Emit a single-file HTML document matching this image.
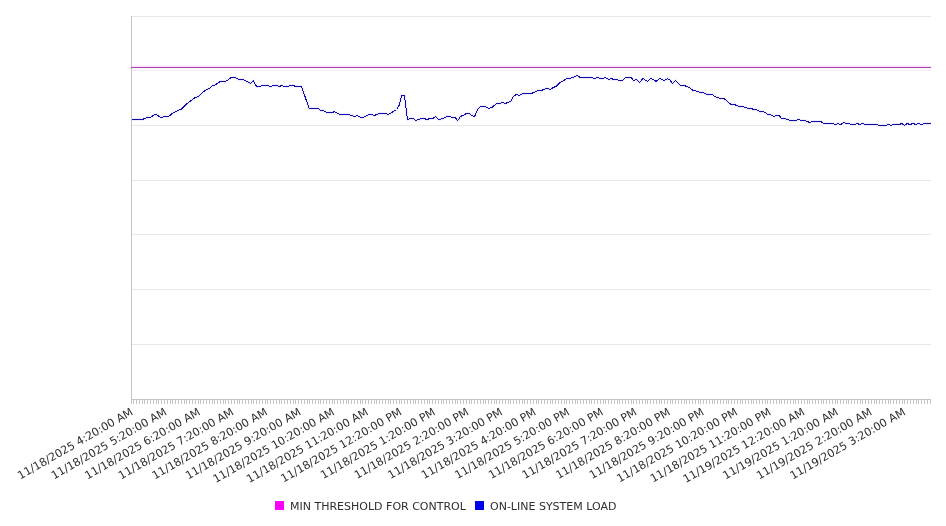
<!DOCTYPE html>
<html><head><meta charset="utf-8"><title>Chart</title>
<style>
html,body{margin:0;padding:0;background:#fff;}
svg{display:block;font-family:"DejaVu Sans","Liberation Sans",sans-serif;font-size:11px;}
</style></head><body>
<svg width="946" height="526" viewBox="0 0 946 526">
<rect width="946" height="526" fill="#fff"/>
<g>
<path d="M131.5 16.5H931" stroke="#e8e8e8" stroke-width="1"/>
<path d="M131.5 70.5H931" stroke="#f4edf4" stroke-width="1"/>
<path d="M131.5 125.5H823" stroke="#e8e8e8" stroke-width="1"/>
<path d="M131.5 180.5H931" stroke="#e8e8e8" stroke-width="1"/>
<path d="M131.5 234.5H931" stroke="#e8e8e8" stroke-width="1"/>
<path d="M131.5 289.5H931" stroke="#e8e8e8" stroke-width="1"/>
<path d="M131.5 344.5H931" stroke="#e8e8e8" stroke-width="1"/>
</g>
<path d="M131.5 16V404" stroke="#c4c4c4" stroke-width="1"/>
<path d="M131 399.5H931" stroke="#c4c4c4" stroke-width="1"/>
<path d="M131.5 399v5M133.5 399v5M136.5 399v5M139.5 399v5M142.5 399v5M144.5 399v5M147.5 399v5M150.5 399v5M153.5 399v5M156.5 399v5M158.5 399v5M161.5 399v5M164.5 399v5M167.5 399v5M170.5 399v5M172.5 399v5M175.5 399v5M178.5 399v5M181.5 399v5M184.5 399v5M186.5 399v5M189.5 399v5M192.5 399v5M195.5 399v5M198.5 399v5M200.5 399v5M203.5 399v5M206.5 399v5M209.5 399v5M212.5 399v5M214.5 399v5M217.5 399v5M220.5 399v5M223.5 399v5M225.5 399v5M228.5 399v5M231.5 399v5M234.5 399v5M237.5 399v5M239.5 399v5M242.5 399v5M245.5 399v5M248.5 399v5M251.5 399v5M253.5 399v5M256.5 399v5M259.5 399v5M262.5 399v5M265.5 399v5M267.5 399v5M270.5 399v5M273.5 399v5M276.5 399v5M279.5 399v5M281.5 399v5M284.5 399v5M287.5 399v5M290.5 399v5M293.5 399v5M295.5 399v5M298.5 399v5M301.5 399v5M304.5 399v5M307.5 399v5M309.5 399v5M312.5 399v5M315.5 399v5M318.5 399v5M320.5 399v5M323.5 399v5M326.5 399v5M329.5 399v5M332.5 399v5M334.5 399v5M337.5 399v5M340.5 399v5M343.5 399v5M346.5 399v5M348.5 399v5M351.5 399v5M354.5 399v5M357.5 399v5M360.5 399v5M362.5 399v5M365.5 399v5M368.5 399v5M371.5 399v5M374.5 399v5M376.5 399v5M379.5 399v5M382.5 399v5M385.5 399v5M388.5 399v5M390.5 399v5M393.5 399v5M396.5 399v5M399.5 399v5M401.5 399v5M404.5 399v5M407.5 399v5M410.5 399v5M413.5 399v5M415.5 399v5M418.5 399v5M421.5 399v5M424.5 399v5M427.5 399v5M429.5 399v5M432.5 399v5M435.5 399v5M438.5 399v5M441.5 399v5M443.5 399v5M446.5 399v5M449.5 399v5M452.5 399v5M455.5 399v5M457.5 399v5M460.5 399v5M463.5 399v5M466.5 399v5M469.5 399v5M471.5 399v5M474.5 399v5M477.5 399v5M480.5 399v5M483.5 399v5M485.5 399v5M488.5 399v5M491.5 399v5M494.5 399v5M496.5 399v5M499.5 399v5M502.5 399v5M505.5 399v5M508.5 399v5M510.5 399v5M513.5 399v5M516.5 399v5M519.5 399v5M522.5 399v5M524.5 399v5M527.5 399v5M530.5 399v5M533.5 399v5M536.5 399v5M538.5 399v5M541.5 399v5M544.5 399v5M547.5 399v5M550.5 399v5M552.5 399v5M555.5 399v5M558.5 399v5M561.5 399v5M564.5 399v5M566.5 399v5M569.5 399v5M572.5 399v5M575.5 399v5M577.5 399v5M580.5 399v5M583.5 399v5M586.5 399v5M589.5 399v5M591.5 399v5M594.5 399v5M597.5 399v5M600.5 399v5M603.5 399v5M605.5 399v5M608.5 399v5M611.5 399v5M614.5 399v5M617.5 399v5M619.5 399v5M622.5 399v5M625.5 399v5M628.5 399v5M631.5 399v5M633.5 399v5M636.5 399v5M639.5 399v5M642.5 399v5M645.5 399v5M647.5 399v5M650.5 399v5M653.5 399v5M656.5 399v5M659.5 399v5M661.5 399v5M664.5 399v5M667.5 399v5M670.5 399v5M672.5 399v5M675.5 399v5M678.5 399v5M681.5 399v5M684.5 399v5M686.5 399v5M689.5 399v5M692.5 399v5M695.5 399v5M698.5 399v5M700.5 399v5M703.5 399v5M706.5 399v5M709.5 399v5M712.5 399v5M714.5 399v5M717.5 399v5M720.5 399v5M723.5 399v5M726.5 399v5M728.5 399v5M731.5 399v5M734.5 399v5M737.5 399v5M740.5 399v5M742.5 399v5M745.5 399v5M748.5 399v5M751.5 399v5M753.5 399v5M756.5 399v5M759.5 399v5M762.5 399v5M765.5 399v5M767.5 399v5M770.5 399v5M773.5 399v5M776.5 399v5M779.5 399v5M781.5 399v5M784.5 399v5M787.5 399v5M790.5 399v5M793.5 399v5M795.5 399v5M798.5 399v5M801.5 399v5M804.5 399v5M807.5 399v5M809.5 399v5M812.5 399v5M815.5 399v5M818.5 399v5M821.5 399v5M823.5 399v5M826.5 399v5M829.5 399v5M832.5 399v5M835.5 399v5M837.5 399v5M840.5 399v5M843.5 399v5M846.5 399v5M848.5 399v5M851.5 399v5M854.5 399v5M857.5 399v5M860.5 399v5M862.5 399v5M865.5 399v5M868.5 399v5M871.5 399v5M874.5 399v5M876.5 399v5M879.5 399v5M882.5 399v5M885.5 399v5M888.5 399v5M890.5 399v5M893.5 399v5M896.5 399v5M899.5 399v5M902.5 399v5M904.5 399v5M907.5 399v5M910.5 399v5M913.5 399v5M916.5 399v5M918.5 399v5M921.5 399v5M924.5 399v5M927.5 399v5M930.5 399v5" stroke="#c4c4c4" stroke-width="1" fill="none"/>
<path d="M132 65.5H931" stroke="#fff0ff" stroke-width="1" fill="none"/>
<path d="M132 66.5H931" stroke="#ffe6ff" stroke-width="1" fill="none"/>
<path d="M131 67.5H931" stroke="#ae3eae" stroke-width="1" fill="none"/>
<polyline points="131.5,119.50 142.5,119.50 146.8,117.50 150.5,117.50 153.9,114.90 156.4,114.50 159.0,116.50 161.7,117.50 164.9,116.50 168.6,116.50 172.9,113.00 175.5,111.90 178.2,110.50 181.4,109.10 186.7,103.90 191.0,100.50 195.2,97.50 198.4,96.50 202.7,92.50 206.4,89.50 209.6,88.50 212.8,85.50 214.9,85.00 220.3,81.50 225.6,81.50 231.4,77.50 234.6,77.50 239.4,79.50 243.2,79.50 250.6,83.50 253.3,80.50 256.5,86.50 259.1,86.50 262.9,85.50 267.1,85.50 270.3,86.50 274.0,85.50 277.2,85.50 279.4,86.50 281.5,85.50 284.2,86.50 287.4,86.50 290.5,85.50 293.2,85.50 295.9,86.50 301.5,86.50 309.2,108.50 318.2,108.50 320.9,110.50 323.6,110.50 326.4,112.50 332.6,112.50 334.5,111.50 337.4,113.50 340.1,114.50 348.6,114.50 354.5,116.50 357.1,115.50 360.5,117.50 363.5,117.50 368.8,114.50 371.5,114.50 374.2,115.50 379.5,113.50 385.3,113.50 388.5,114.50 393.3,111.50 396.5,109.50 399.4,105.00 401.5,95.50 404.5,95.50 407.4,119.50 410.4,118.50 413.0,118.50 415.7,120.50 421.6,118.50 424.2,118.50 426.9,119.50 430.1,118.50 432.7,118.50 435.4,116.50 438.6,119.50 443.4,118.50 446.6,116.50 449.2,116.50 452.4,117.50 455.3,117.50 457.6,121.00 460.4,116.50 463.6,115.10 466.3,113.50 469.0,113.50 472.1,115.50 474.6,116.50 477.5,109.50 480.7,106.50 485.5,106.50 488.7,108.50 491.9,107.50 496.6,103.50 499.3,103.50 502.0,102.50 505.2,103.50 507.8,102.50 510.7,101.50 513.7,96.10 516.4,94.50 519.5,95.50 522.7,93.50 531.3,93.50 534.5,92.10 537.7,90.50 541.4,90.50 547.2,88.10 550.2,89.50 553.1,87.50 555.8,86.50 559.0,83.50 561.6,81.50 563.7,80.50 566.4,78.50 570.1,78.50 577.2,75.50 580.3,77.50 591.4,77.50 594.1,78.50 597.3,77.50 600.5,78.50 603.2,78.50 605.3,77.50 608.5,79.50 611.1,78.50 613.8,79.50 617.0,79.50 619.7,80.50 622.5,80.50 625.5,77.50 631.2,77.50 633.5,80.50 636.7,79.50 639.7,82.50 642.9,78.50 647.4,81.50 650.5,78.50 653.2,79.50 656.1,81.50 659.4,78.50 662.0,79.50 664.4,80.50 667.5,78.50 670.0,80.00 672.6,83.50 675.4,80.50 678.2,83.50 680.9,85.50 684.1,85.50 689.4,87.50 693.2,90.50 697.9,91.50 700.6,92.50 703.3,92.50 706.5,94.50 712.3,94.50 715.0,96.50 720.3,98.50 724.0,98.50 731.0,104.50 734.2,104.50 739.5,106.50 742.7,106.50 748.0,108.50 751.2,108.50 753.9,109.50 756.5,109.50 759.5,111.50 762.6,111.50 765.1,112.50 767.7,114.50 770.4,114.50 773.9,116.50 776.2,115.50 779.2,115.50 781.6,118.50 784.2,118.50 790.1,120.50 795.9,120.50 798.6,119.50 801.8,120.50 804.5,120.50 809.8,122.50 812.4,121.50 821.0,121.50 823.6,123.50 832.1,123.50 835.3,124.50 838.0,123.50 840.7,124.50 843.5,122.50 846.5,123.50 848.7,123.50 851.3,124.50 854.5,124.50 857.2,123.50 859.8,124.50 862.5,123.50 865.2,124.50 876.4,124.50 879.0,125.50 885.4,125.50 888.6,124.50 890.7,125.50 893.9,124.50 899.2,124.50 901.9,123.50 904.4,125.50 907.2,123.50 909.9,124.50 913.1,123.50 915.8,124.50 918.9,123.50 921.6,124.50 924.8,123.50 930.9,123.50" fill="none" stroke="#0000ff" stroke-opacity="0.07" stroke-width="3" stroke-linejoin="round"/>
<polyline points="131.5,119.50 142.5,119.50 146.8,117.50 150.5,117.50 153.9,114.90 156.4,114.50 159.0,116.50 161.7,117.50 164.9,116.50 168.6,116.50 172.9,113.00 175.5,111.90 178.2,110.50 181.4,109.10 186.7,103.90 191.0,100.50 195.2,97.50 198.4,96.50 202.7,92.50 206.4,89.50 209.6,88.50 212.8,85.50 214.9,85.00 220.3,81.50 225.6,81.50 231.4,77.50 234.6,77.50 239.4,79.50 243.2,79.50 250.6,83.50 253.3,80.50 256.5,86.50 259.1,86.50 262.9,85.50 267.1,85.50 270.3,86.50 274.0,85.50 277.2,85.50 279.4,86.50 281.5,85.50 284.2,86.50 287.4,86.50 290.5,85.50 293.2,85.50 295.9,86.50 301.5,86.50 309.2,108.50 318.2,108.50 320.9,110.50 323.6,110.50 326.4,112.50 332.6,112.50 334.5,111.50 337.4,113.50 340.1,114.50 348.6,114.50 354.5,116.50 357.1,115.50 360.5,117.50 363.5,117.50 368.8,114.50 371.5,114.50 374.2,115.50 379.5,113.50 385.3,113.50 388.5,114.50 393.3,111.50 396.5,109.50 399.4,105.00 401.5,95.50 404.5,95.50 407.4,119.50 410.4,118.50 413.0,118.50 415.7,120.50 421.6,118.50 424.2,118.50 426.9,119.50 430.1,118.50 432.7,118.50 435.4,116.50 438.6,119.50 443.4,118.50 446.6,116.50 449.2,116.50 452.4,117.50 455.3,117.50 457.6,121.00 460.4,116.50 463.6,115.10 466.3,113.50 469.0,113.50 472.1,115.50 474.6,116.50 477.5,109.50 480.7,106.50 485.5,106.50 488.7,108.50 491.9,107.50 496.6,103.50 499.3,103.50 502.0,102.50 505.2,103.50 507.8,102.50 510.7,101.50 513.7,96.10 516.4,94.50 519.5,95.50 522.7,93.50 531.3,93.50 534.5,92.10 537.7,90.50 541.4,90.50 547.2,88.10 550.2,89.50 553.1,87.50 555.8,86.50 559.0,83.50 561.6,81.50 563.7,80.50 566.4,78.50 570.1,78.50 577.2,75.50 580.3,77.50 591.4,77.50 594.1,78.50 597.3,77.50 600.5,78.50 603.2,78.50 605.3,77.50 608.5,79.50 611.1,78.50 613.8,79.50 617.0,79.50 619.7,80.50 622.5,80.50 625.5,77.50 631.2,77.50 633.5,80.50 636.7,79.50 639.7,82.50 642.9,78.50 647.4,81.50 650.5,78.50 653.2,79.50 656.1,81.50 659.4,78.50 662.0,79.50 664.4,80.50 667.5,78.50 670.0,80.00 672.6,83.50 675.4,80.50 678.2,83.50 680.9,85.50 684.1,85.50 689.4,87.50 693.2,90.50 697.9,91.50 700.6,92.50 703.3,92.50 706.5,94.50 712.3,94.50 715.0,96.50 720.3,98.50 724.0,98.50 731.0,104.50 734.2,104.50 739.5,106.50 742.7,106.50 748.0,108.50 751.2,108.50 753.9,109.50 756.5,109.50 759.5,111.50 762.6,111.50 765.1,112.50 767.7,114.50 770.4,114.50 773.9,116.50 776.2,115.50 779.2,115.50 781.6,118.50 784.2,118.50 790.1,120.50 795.9,120.50 798.6,119.50 801.8,120.50 804.5,120.50 809.8,122.50 812.4,121.50 821.0,121.50 823.6,123.50 832.1,123.50 835.3,124.50 838.0,123.50 840.7,124.50 843.5,122.50 846.5,123.50 848.7,123.50 851.3,124.50 854.5,124.50 857.2,123.50 859.8,124.50 862.5,123.50 865.2,124.50 876.4,124.50 879.0,125.50 885.4,125.50 888.6,124.50 890.7,125.50 893.9,124.50 899.2,124.50 901.9,123.50 904.4,125.50 907.2,123.50 909.9,124.50 913.1,123.50 915.8,124.50 918.9,123.50 921.6,124.50 924.8,123.50 930.9,123.50" fill="none" stroke="#110ca8" stroke-width="1" stroke-linejoin="round" shape-rendering="crispEdges"/>
<g fill="#2f2f2f" font-size="11.12">
<text x="133.9" y="414.1" transform="rotate(-30 133.9 414.1)" text-anchor="end">11/18/2025 4:20:00 AM</text>
<text x="167.5" y="414.1" transform="rotate(-30 167.5 414.1)" text-anchor="end">11/18/2025 5:20:00 AM</text>
<text x="201.1" y="414.1" transform="rotate(-30 201.1 414.1)" text-anchor="end">11/18/2025 6:20:00 AM</text>
<text x="234.6" y="414.1" transform="rotate(-30 234.6 414.1)" text-anchor="end">11/18/2025 7:20:00 AM</text>
<text x="268.2" y="414.1" transform="rotate(-30 268.2 414.1)" text-anchor="end">11/18/2025 8:20:00 AM</text>
<text x="301.8" y="414.1" transform="rotate(-30 301.8 414.1)" text-anchor="end">11/18/2025 9:20:00 AM</text>
<text x="335.4" y="414.1" transform="rotate(-30 335.4 414.1)" text-anchor="end">11/18/2025 10:20:00 AM</text>
<text x="369.0" y="414.1" transform="rotate(-30 369.0 414.1)" text-anchor="end">11/18/2025 11:20:00 AM</text>
<text x="402.5" y="414.1" transform="rotate(-30 402.5 414.1)" text-anchor="end">11/18/2025 12:20:00 PM</text>
<text x="436.1" y="414.1" transform="rotate(-30 436.1 414.1)" text-anchor="end">11/18/2025 1:20:00 PM</text>
<text x="469.7" y="414.1" transform="rotate(-30 469.7 414.1)" text-anchor="end">11/18/2025 2:20:00 PM</text>
<text x="503.3" y="414.1" transform="rotate(-30 503.3 414.1)" text-anchor="end">11/18/2025 3:20:00 PM</text>
<text x="536.9" y="414.1" transform="rotate(-30 536.9 414.1)" text-anchor="end">11/18/2025 4:20:00 PM</text>
<text x="570.4" y="414.1" transform="rotate(-30 570.4 414.1)" text-anchor="end">11/18/2025 5:20:00 PM</text>
<text x="604.0" y="414.1" transform="rotate(-30 604.0 414.1)" text-anchor="end">11/18/2025 6:20:00 PM</text>
<text x="637.6" y="414.1" transform="rotate(-30 637.6 414.1)" text-anchor="end">11/18/2025 7:20:00 PM</text>
<text x="671.2" y="414.1" transform="rotate(-30 671.2 414.1)" text-anchor="end">11/18/2025 8:20:00 PM</text>
<text x="704.8" y="414.1" transform="rotate(-30 704.8 414.1)" text-anchor="end">11/18/2025 9:20:00 PM</text>
<text x="738.3" y="414.1" transform="rotate(-30 738.3 414.1)" text-anchor="end">11/18/2025 10:20:00 PM</text>
<text x="771.9" y="414.1" transform="rotate(-30 771.9 414.1)" text-anchor="end">11/18/2025 11:20:00 PM</text>
<text x="805.5" y="414.1" transform="rotate(-30 805.5 414.1)" text-anchor="end">11/19/2025 12:20:00 AM</text>
<text x="839.1" y="414.1" transform="rotate(-30 839.1 414.1)" text-anchor="end">11/19/2025 1:20:00 AM</text>
<text x="872.7" y="414.1" transform="rotate(-30 872.7 414.1)" text-anchor="end">11/19/2025 2:20:00 AM</text>
<text x="906.2" y="414.1" transform="rotate(-30 906.2 414.1)" text-anchor="end">11/19/2025 3:20:00 AM</text>
</g>
<rect x="275" y="501" width="9" height="9" fill="#ff00ff"/>
<text x="290" y="510" fill="#2f2f2f">MIN THRESHOLD FOR CONTROL</text>
<rect x="475" y="501" width="9" height="9" fill="#0000ec"/>
<text x="490" y="510" fill="#2f2f2f">ON-LINE SYSTEM LOAD</text>
</svg>
</body></html>
